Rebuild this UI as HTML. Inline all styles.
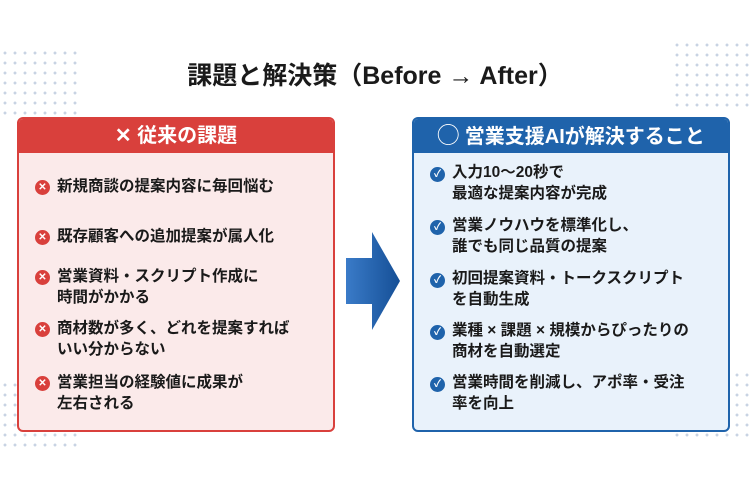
<!DOCTYPE html><html><head><meta charset="utf-8"><style>
body{margin:0;width:750px;height:500px;background:#fff;position:relative;overflow:hidden;font-family:"Liberation Sans","Noto Sans CJK JP",sans-serif;font-weight:bold;color:#1a1a1a}
.t{position:absolute;left:0;width:750px;top:58px;text-align:center;font-size:25px;line-height:36px}
.box{position:absolute;top:117px;width:314px;height:311px;border-radius:6px;overflow:hidden}
.l{left:17px;border:2px solid #d9403c;background:#fbeaea}
.r{left:412px;border:2px solid #1f63ab;background:#e9f2fb}
.h{height:34px;color:#fff;font-size:20px;line-height:34px;text-align:center}
.l .h{background:#d9403c}.r .h{background:#1f63ab}
.it{position:absolute;font-size:15.5px;line-height:21px}
.ic{position:absolute;width:15px;height:15px;border-radius:50%;color:#fff;font-size:10px;line-height:15px;text-align:center}
.l .ic{background:#d9403c}.r .ic{background:#1f63ab}
.dots{position:absolute;width:80px;height:70px;background-image:radial-gradient(#c8d3e3 1.3px,transparent 1.6px);background-size:10px 10px}
</style></head><body>
<div class="dots" style="left:0;top:48px"></div>
<div class="dots" style="left:672px;top:40px"></div>
<div class="dots" style="left:672px;top:370px"></div>
<div class="dots" style="left:0;top:380px"></div>
<div class="t">課題と解決策（Before → After）</div>
<div class="box l"><div class="h">✕ 従来の課題</div>
<div class="ic" style="left:16px;top:61px">✕</div><div class="it" style="left:38px;top:57px">新規商談の提案内容に毎回悩む</div>
<div class="ic" style="left:16px;top:111px">✕</div><div class="it" style="left:38px;top:107px">既存顧客への追加提案が属人化</div>
<div class="ic" style="left:16px;top:151px">✕</div><div class="it" style="left:38px;top:147px">営業資料・スクリプト作成に<br>時間がかかる</div>
<div class="ic" style="left:16px;top:203px">✕</div><div class="it" style="left:38px;top:199px">商材数が多く、どれを提案すれば<br>いい分からない</div>
<div class="ic" style="left:16px;top:257px">✕</div><div class="it" style="left:38px;top:253px">営業担当の経験値に成果が<br>左右される</div>
</div>
<svg style="position:absolute;left:344px;top:230px" width="58" height="102"><defs><linearGradient id="g" x1="0" x2="1"><stop offset="0" stop-color="#3a7bc8"/><stop offset="1" stop-color="#154f96"/></linearGradient></defs><polygon points="2,28 28,28 28,2 56,51 28,100 28,74 2,74" fill="url(#g)"/></svg>
<div class="box r"><div class="h"><span style="font-size:22px">◯</span> 営業支援AIが解決すること</div>
<div class="ic" style="left:16px;top:48px">✓</div><div class="it" style="left:38px;top:43px">入力10〜20秒で<br>最適な提案内容が完成</div>
<div class="ic" style="left:16px;top:101px">✓</div><div class="it" style="left:38px;top:96px">営業ノウハウを標準化し、<br>誰でも同じ品質の提案</div>
<div class="ic" style="left:16px;top:154px">✓</div><div class="it" style="left:38px;top:149px">初回提案資料・トークスクリプト<br>を自動生成</div>
<div class="ic" style="left:16px;top:206px">✓</div><div class="it" style="left:38px;top:201px">業種 × 課題 × 規模からぴったりの<br>商材を自動選定</div>
<div class="ic" style="left:16px;top:258px">✓</div><div class="it" style="left:38px;top:253px">営業時間を削減し、アポ率・受注<br>率を向上</div>
</div>
</body></html>
